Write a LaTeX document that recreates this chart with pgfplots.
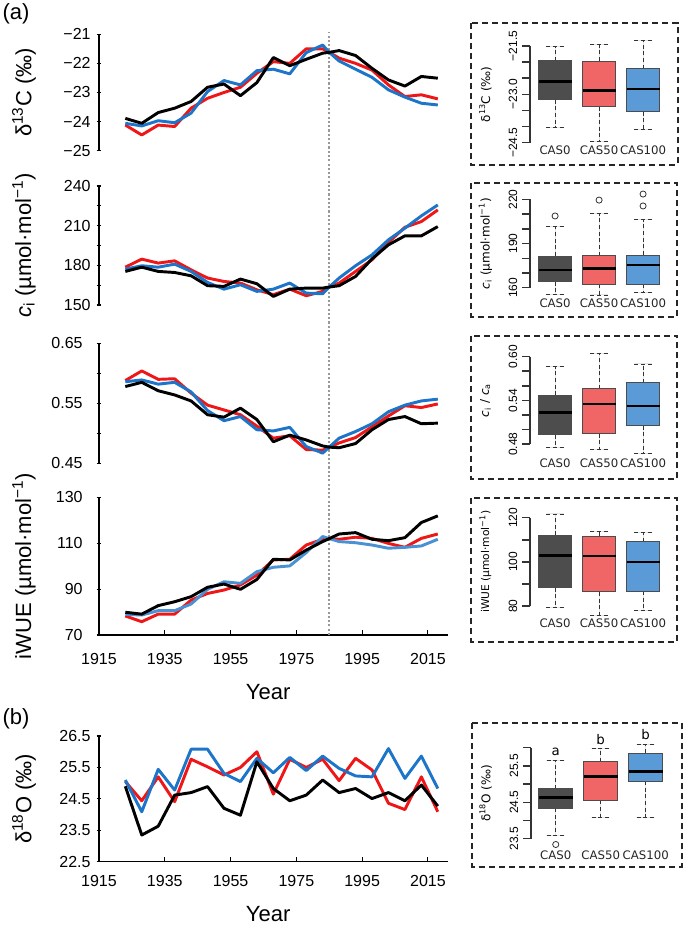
\documentclass[border=0pt]{standalone}
\usepackage{fontspec}
\setmainfont{Liberation Sans}
\newfontfamily\dejavu{DejaVu Sans}
\usepackage{pgfplots}
\usepackage{pgfplotstable}
\usepgfplotslibrary{statistics}
\usetikzlibrary{calc}
\pgfplotsset{compat=1.18}

\definecolor{cred}{RGB}{238,22,22}
\definecolor{cblue}{RGB}{28,117,200}
\definecolor{fgray}{RGB}{77,77,77}
\definecolor{fred}{RGB}{240,102,102}
\definecolor{fblue}{RGB}{90,155,215}
\tikzset{yaxisline/.style={black!80, line width=1.1pt}}

\pgfplotstableread{
yr k r b
1923 -23.89 -24.12 -24.06
1928 -24.06 -24.46 -24.15
1933 -23.69 -24.12 -23.97
1938 -23.54 -24.17 -24.04
1943 -23.31 -23.54 -23.71
1948 -22.82 -23.20 -22.97
1953 -22.71 -23.00 -22.59
1958 -23.11 -22.82 -22.74
1963 -22.66 -22.34 -22.25
1968 -21.80 -21.94 -22.20
1973 -22.08 -22.00 -22.36
1978 -21.86 -21.50 -21.63
1983 -21.65 -21.50 -21.37
1985 -21.62 -21.62 -21.62
1988 -21.56 -21.82 -21.92
1993 -21.73 -22.00 -22.20
1998 -22.17 -22.23 -22.48
2003 -22.57 -22.74 -22.91
2008 -22.78 -23.14 -23.16
2013 -22.45 -23.08 -23.37
2018 -22.51 -23.22 -23.43
}\dC

\pgfplotstableread{
yr k r b
1923 175.4 178.6 177.1
1928 178.6 184.7 179.7
1933 175.4 181.7 178.6
1938 174.6 183.4 180.9
1943 172.1 176.6 175.4
1948 164.6 170.4 167.1
1953 164.1 167.8 162.0
1958 169.6 166.6 165.3
1963 166.1 161.5 160.3
1968 156.5 157.8 162.0
1973 162.0 162.0 166.6
1978 162.8 157.0 159.0
1983 162.8 160.3 158.5
1985 163.6 163.6 163.6
1988 164.6 166.6 170.4
1993 171.6 175.4 179.7
1998 184.9 184.2 187.9
2003 195.5 197.3 199.3
2008 202.3 208.8 208.1
2013 202.3 213.1 217.4
2018 209.3 221.9 225.7
}\ci

\pgfplotstableread{
yr k r b
1923 0.578 0.588 0.586
1928 0.585 0.604 0.589
1933 0.571 0.590 0.582
1938 0.564 0.591 0.585
1943 0.554 0.567 0.569
1948 0.531 0.547 0.538
1953 0.527 0.539 0.521
1958 0.542 0.531 0.528
1963 0.523 0.512 0.506
1968 0.486 0.492 0.504
1973 0.497 0.496 0.510
1978 0.489 0.473 0.478
1983 0.479 0.472 0.467
1985 0.477 0.477 0.477
1988 0.476 0.484 0.492
1993 0.483 0.493 0.503
1998 0.506 0.511 0.516
2003 0.523 0.529 0.536
2008 0.528 0.546 0.547
2013 0.516 0.543 0.554
2018 0.517 0.549 0.557
}\cica

\pgfplotstableread{
yr k r b
1923 79.9 78.3 79.0
1928 79.1 75.8 78.7
1933 82.8 79.1 80.6
1938 84.5 79.1 80.6
1943 86.7 85.2 83.5
1948 90.8 88.1 89.9
1953 92.2 89.6 93.2
1958 89.9 91.8 92.5
1963 94.2 96.1 97.6
1968 103.0 102.7 99.5
1973 102.7 103.0 100.1
1978 107.0 109.2 105.9
1983 110.7 111.7 112.9
1985 112.0 112.0 112.0
1988 114.0 111.7 110.7
1993 114.6 112.6 110.2
1998 111.7 112.1 109.2
2003 111.1 109.9 107.8
2008 112.4 108.2 108.2
2013 119.0 112.1 108.8
2018 121.9 114.0 111.7
}\iwue

\pgfplotstableread{
yr k r b
1923 24.90 25.05 25.10
1928 23.35 24.44 24.09
1933 23.63 25.20 25.44
1938 24.62 24.41 24.78
1943 24.70 25.76 26.08
1948 24.89 25.52 26.08
1953 24.20 25.26 25.31
1958 23.98 25.50 25.05
1963 25.68 26.00 25.79
1968 24.83 24.65 25.33
1973 24.44 25.76 25.82
1978 24.62 25.50 25.40
1983 25.10 25.76 25.86
1988 24.70 25.08 25.47
1993 24.83 25.79 25.23
1998 24.51 25.42 25.20
2003 24.70 24.36 26.10
2008 24.44 24.16 25.15
2013 24.94 25.20 25.86
2018 24.27 24.09 24.83
}\dO

\pgfplotsset{
  leftp/.style={
    scale only axis, anchor=south west, width=261.5pt, xmin=1915, xmax=2021,
    axis y line*=left,
    axis line style={-, line width=0.8pt},
    tick align=inside, major tick length=3.5pt,
    every tick/.style={black, line width=0.8pt},
    ytick style={xshift=-1.75pt},
    tick label style={font=\fontsize{12}{14}\selectfont},
    /pgf/number format/assume math mode=true,
    ylabel style={at={(axis description cs:-0.215,0.5)}, anchor=center, font=\fontsize{16.5}{19}\selectfont},
    xlabel style={at={(axis description cs:0.485,0)}, anchor=center, font=\fontsize{16.5}{19}\selectfont},
    every axis plot/.append style={line width=2.2pt, line join=round, mark=none},
    clip=false,
  },
  boxp/.style={
    scale only axis, anchor=south west, width=101.3pt, xmin=0.43, xmax=3.5,
    axis y line*=left, axis x line=none,
    axis line style={-, black!70, line width=0.9pt},
    tick align=outside, major tick length=6pt,
    every tick/.style={black!70, line width=0.9pt},
    yticklabel style={rotate=90, anchor=south, font=\fontsize{9}{11}\selectfont},
    /pgf/number format/assume math mode=true,
    ylabel style={at={(axis description cs:-0.33,0.5)}, anchor=center, font=\dejavu\fontsize{9}{11}\selectfont},
    clip=false,
    boxplot/draw direction=y,
    boxplot/box extend=0.75, boxplot/whisker extend=0.4,
    boxplot/every median/.style={line width=2pt, black},
    boxplot/every whisker/.style={dash pattern=on 3pt off 2pt, black!80},
  },
  casx/.style={
    scale only axis, anchor=south west, width=101.3pt, xmin=0.43, xmax=3.5,
    ymin=0, ymax=1, axis y line=none, axis x line*=bottom,
    axis line style={draw=none}, 
    xtick={1,2,3}, xticklabels={CAS0,CAS50,CAS100},
    every tick/.style={draw=none}, tick align=outside, major tick length=6pt,
    xticklabel style={font=\dejavu\fontsize{8.8}{11}\selectfont, text=black!85},
  },
  outl/.style={mark=o, mark size=2.3pt, mark options={solid, fill=none, draw=black!80, line width=0.6pt}},
}

\begin{document}
\begin{tikzpicture}
\useasboundingbox (0,0) rectangle (513.75pt,-694.5pt);

% ---- iWUE (drawn first so the dotted line lies beneath the other panels)
\begin{axis}[leftp, at={(74.25pt,-476.25pt)}, height=103.3pt,
  ymin=70, ymax=130, ytick={70,90,110,130}, yticklabels={70,90,110,130},
  yticklabel style={xshift=-8.8pt},
  axis x line*=bottom, xtick={1915,1935,1955,1975,1995,2015},
  xticklabels={1915,1935,1955,1975,1995,2015},
  xticklabel style={yshift=-10pt},
  xlabel={Year}, xlabel style={yshift=-42.75pt},
  ylabel={iWUE (µmol·mol\textsuperscript{−1})}]
\draw[black!40, line width=1.6pt, dash pattern=on 1.6pt off 1.6pt] (axis cs:1985,70) -- ++(0pt,452.25pt);
\addplot[cred] table[x=yr,y=r]{\iwue};
\addplot[cblue!80!white] table[x=yr,y=b]{\iwue};
\addplot[black] table[x=yr,y=k]{\iwue};
\end{axis}

% ---- d13C
\begin{axis}[leftp, at={(74.25pt,-113.0pt)}, height=87.3pt,
  axis x line=none,
  ymin=-25, ymax=-21, ytick={-25,-24,-23,-22,-21}, yticklabels={−25,−24,−23,−22,−21},
  yticklabel style={xshift=-2.8pt},
  ylabel={δ\textsuperscript{13}C (‰)}]
\addplot[cred] table[x=yr,y=r]{\dC};
\addplot[cblue] table[x=yr,y=b]{\dC};
\addplot[black] table[x=yr,y=k]{\dC};
\end{axis}

% ---- ci
\begin{axis}[leftp, at={(74.25pt,-228.75pt)}, height=89.25pt,
  axis x line=none,
  ymin=150, ymax=240, ytick={150,165,180,195,210,225,240}, yticklabels={150,,180,,210,,240},
  yticklabel style={xshift=-2.8pt},
  ylabel={\textit{c}\textsubscript{i} (µmol·mol\textsuperscript{−1})}]
\addplot[cred] table[x=yr,y=r]{\ci};
\addplot[cblue] table[x=yr,y=b]{\ci};
\addplot[black] table[x=yr,y=k]{\ci};
\end{axis}

% ---- ci/ca
\begin{axis}[leftp, at={(74.25pt,-347.5pt)}, height=90pt,
  axis x line=none,
  ymin=0.45, ymax=0.65, ytick={0.45,0.5,0.55,0.6,0.65}, yticklabels={0.45,,0.55,,0.65},
  yticklabel style={xshift=-8.8pt}]
\addplot[cred] table[x=yr,y=r]{\cica};
\addplot[cblue] table[x=yr,y=b]{\cica};
\addplot[black] table[x=yr,y=k]{\cica};
\end{axis}

% ---- d18O
\begin{axis}[leftp, at={(74.25pt,-646.3pt)}, height=94.3pt,
  ymin=22.5, ymax=26.5, ytick={22.5,23.5,24.5,25.5,26.5}, yticklabels={22.5,23.5,24.5,25.5,26.5},
  yticklabel style={xshift=-2.8pt},
  axis x line*=bottom, xtick={1915,1935,1955,1975,1995,2015},
  xticklabels={1915,1935,1955,1975,1995,2015},
  xticklabel style={yshift=-7pt},
  xlabel={Year}, xlabel style={yshift=-39pt},
  ylabel={δ\textsuperscript{18}O (‰)}]
\addplot[cred] table[x=yr,y=r]{\dO};
\addplot[cblue] table[x=yr,y=b]{\dO};
\addplot[black] table[x=yr,y=k]{\dO};
\end{axis}

% ---- panel letters
\node[font=\fontsize{16.5}{19}\selectfont] at (12pt,-10.5pt) {(a)};
\node[font=\fontsize{16.5}{19}\selectfont] at (12pt,-539.25pt) {(b)};

% ---- dashed frames
\tikzset{frame/.style={dash pattern=on 4.5pt off 3pt, line width=1.3pt, black!85}}
\draw[frame] (353.25pt,-17.5pt) rectangle (508.3pt,-123.75pt);
\draw[frame] (353.25pt,-137.5pt) rectangle (507.75pt,-237.5pt);
\draw[frame] (353.25pt,-251.8pt) rectangle (507.75pt,-359.25pt);
\draw[frame] (353.25pt,-373.7pt) rectangle (507.75pt,-481.3pt);
\draw[frame] (354.2pt,-542.5pt) rectangle (511.3pt,-650pt);

% ---- box 1
\begin{axis}[boxp, name=b1, at={(397.5pt,-107.0pt)}, height=72.5pt,
  ymin=-24.5, ymax=-21.5, ytick={-24.5,-24,-23.5,-23,-22.5,-22,-21.5},
  yticklabels={−24.5,,,−23.0,,,−21.5},
  ylabel={δ\textsuperscript{13}C (‰)}]
\addplot[boxplot prepared={draw position=1, lower whisker=-24.03, lower quartile=-23.17, median=-22.6, upper quartile=-21.95, upper whisker=-21.52}, draw=black!70, fill=fgray, line width=0.6pt] coordinates {};
\addplot[boxplot prepared={draw position=2, lower whisker=-24.45, lower quartile=-23.38, median=-22.88, upper quartile=-21.97, upper whisker=-21.45}, draw=black!70, fill=fred, line width=0.6pt] coordinates {};
\addplot[boxplot prepared={draw position=3, lower whisker=-24.1, lower quartile=-23.54, median=-22.83, upper quartile=-22.2, upper whisker=-21.33}, draw=black!70, fill=fblue, line width=0.6pt] coordinates {};
\end{axis}
\begin{axis}[casx, at={(397.5pt,-107.0pt)}, height=72.5pt, xticklabel style={yshift=7.5pt}]
\end{axis}

% ---- box 2
\begin{axis}[boxp, name=b2, at={(397.5pt,-215.8pt)}, height=66.3pt,
  ymin=160, ymax=220, ytick={160,170,180,190,200,210,220},
  yticklabels={160,,,190,,,220},
  ylabel={\textit{c}\textsubscript{i} (µmol·mol\textsuperscript{−1})}]
\addplot[boxplot prepared={draw position=1, lower whisker=155.7, lower quartile=164.1, median=172.0, upper quartile=181.5, upper whisker=201.9}, draw=black!70, fill=fgray, line width=0.6pt, outl] coordinates {(1,208.7)};
\addplot[boxplot prepared={draw position=2, lower whisker=155.1, lower quartile=162.3, median=173.2, upper quartile=181.8, upper whisker=210.5}, draw=black!70, fill=fred, line width=0.6pt, outl] coordinates {(2,219.5)};
\addplot[boxplot prepared={draw position=3, lower whisker=156.9, lower quartile=162.3, median=175.4, upper quartile=182.2, upper whisker=206.4}, draw=black!70, fill=fblue, line width=0.6pt, outl] coordinates {(3,215.5) (3,223.6)};
\end{axis}
\begin{axis}[casx, at={(397.5pt,-215.8pt)}, height=66.3pt, xticklabel style={yshift=1.5pt}]
\end{axis}

% ---- box 3
\begin{axis}[boxp, name=b3, at={(397.5pt,-333pt)}, height=65.5pt,
  ymin=0.48, ymax=0.60, ytick={0.48,0.50,0.52,0.54,0.56,0.58,0.60},
  yticklabels={0.48,,,0.54,,,0.60},
  ylabel={\textit{c}\textsubscript{i} / \textit{c}\textsubscript{a}}]
\addplot[boxplot prepared={draw position=1, lower whisker=0.475, lower quartile=0.493, median=0.523, upper quartile=0.547, upper whisker=0.586}, draw=black!70, fill=fgray, line width=0.6pt] coordinates {};
\addplot[boxplot prepared={draw position=2, lower whisker=0.473, lower quartile=0.494, median=0.535, upper quartile=0.556, upper whisker=0.604}, draw=black!70, fill=fred, line width=0.6pt] coordinates {};
\addplot[boxplot prepared={draw position=3, lower whisker=0.467, lower quartile=0.505, median=0.532, upper quartile=0.564, upper whisker=0.590}, draw=black!70, fill=fblue, line width=0.6pt] coordinates {};
\end{axis}
\begin{axis}[casx, at={(397.5pt,-333pt)}, height=65.5pt, xticklabel style={yshift=-1.5pt}]
\end{axis}

% ---- box 4
\begin{axis}[boxp, name=b4, at={(397.5pt,-454.5pt)}, height=66.2pt,
  ymin=80, ymax=120, ytick={80,90,100,110,120},
  yticklabels={80,,100,,120},
  ylabel={iWUE (µmol·mol\textsuperscript{−1})},
  ylabel style={font=\dejavu\fontsize{8}{10}\selectfont}]
\addplot[boxplot prepared={draw position=1, lower whisker=79.4, lower quartile=88.3, median=102.9, upper quartile=112.0, upper whisker=121.7}, draw=black!70, fill=fgray, line width=0.6pt] coordinates {};
\addplot[boxplot prepared={draw position=2, lower whisker=75.9, lower quartile=86.4, median=102.6, upper quartile=111.7, upper whisker=113.8}, draw=black!70, fill=fred, line width=0.6pt] coordinates {};
\addplot[boxplot prepared={draw position=3, lower whisker=78.0, lower quartile=86.8, median=99.9, upper quartile=109.1, upper whisker=113.2}, draw=black!70, fill=fblue, line width=0.6pt] coordinates {};
\end{axis}
\begin{axis}[casx, at={(397.5pt,-454.5pt)}, height=66.2pt]
\end{axis}

% ---- box 5
\begin{axis}[boxp, name=b5, at={(398.25pt,-629pt)}, height=68.25pt, width=102.9pt, xmin=0.45,
  ymin=23.5, ymax=26, ytick={23.5,24,24.5,25,25.5,26},
  yticklabels={23.5,,24.5,,25.5,},
  ylabel={δ\textsuperscript{18}O (‰)}]
\addplot[boxplot prepared={draw position=1, lower whisker=23.6, lower quartile=24.34, median=24.64, upper quartile=24.87, upper whisker=25.64}, draw=black!70, fill=fgray, line width=0.6pt, outl] coordinates {(1,23.34)};
\addplot[boxplot prepared={draw position=2, lower whisker=24.09, lower quartile=24.55, median=25.2, upper quartile=25.62, upper whisker=25.98}, draw=black!70, fill=fred, line width=0.6pt] coordinates {};
\addplot[boxplot prepared={draw position=3, lower whisker=24.08, lower quartile=25.08, median=25.35, upper quartile=25.85, upper whisker=26.1}, draw=black!70, fill=fblue, line width=0.6pt] coordinates {};
\node[font=\dejavu\fontsize{10}{12}\selectfont] at (axis cs:1,25.89) {a};
\node[font=\dejavu\fontsize{10}{12}\selectfont] at (axis cs:2,26.23) {b};
\node[font=\dejavu\fontsize{10}{12}\selectfont] at (axis cs:3,26.35) {b};
\end{axis}
\begin{axis}[casx, at={(398.25pt,-629pt)}, height=68.25pt, width=102.9pt, xmin=0.45, xticklabel style={yshift=0.5pt}]
\end{axis}

% ---- y axis lines and ticks of the box panels
\foreach \nm/\n in {b1/6,b2/6,b3/6,b4/4,b5/5} {
  \draw[yaxisline] (\nm.south west) -- (\nm.north west);
  \foreach \k in {0,...,\n} {
    \draw[yaxisline] ($(\nm.south west)!\k/\n!(\nm.north west)$) -- ++(-6pt,0pt);
  }
}
\end{tikzpicture}
\end{document}
